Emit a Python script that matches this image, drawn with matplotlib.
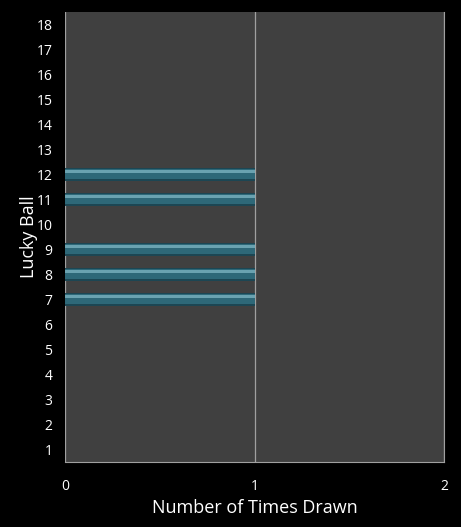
import matplotlib
matplotlib.use("Agg")
import matplotlib.pyplot as plt

balls = list(range(1, 19))
drawn_balls = [7, 8, 9, 11, 12]
times_drawn = [1, 1, 1, 1, 1]
x_ticks = [0, 1, 2]

plt.rcParams['font.family'] = ['Open Sans', 'DejaVu Sans']

fig = plt.figure(figsize=(4.61, 5.27), dpi=100, facecolor='black')
ax = fig.add_axes([65 / 461, 65 / 527, 379 / 461, 450 / 527])
ax.set_facecolor('#404040')

# bars with a fake 3d look: dark base, mid body, light top stripe
ax.barh(drawn_balls, times_drawn, height=0.5, color='#1c4653', zorder=3)
ax.barh([b + 0.03 for b in drawn_balls], times_drawn, height=0.38, color='#2e6878', zorder=4)
ax.barh([b + 0.13 for b in drawn_balls], times_drawn, height=0.12, color='#6aa2b0', zorder=5)

ax.set_xlim(0, 2)
ax.set_ylim(0.5, 18.5)
ax.set_xticks(x_ticks)
ax.set_yticks(balls)
ax.set_yticklabels([str(b) for b in balls])
ax.xaxis.grid(True, color='#a0a0a0', linewidth=0.9, zorder=1)
ax.set_axisbelow(True)

for side in ['top', 'left']:
    ax.spines[side].set_visible(False)
ax.spines['right'].set_color('#a0a0a0')
ax.spines['bottom'].set_color('#a0a0a0')

ax.tick_params(colors='white', labelsize=10, length=0)
ax.tick_params(axis='x', pad=12)
ax.tick_params(axis='y', pad=9)

ax.set_xlabel("Number of Times Drawn", color='white', fontsize=13, labelpad=4)
ax.set_ylabel("Lucky Ball", color='white', fontsize=13, labelpad=-1)

fig.savefig("out.png", dpi=100, facecolor='black')
